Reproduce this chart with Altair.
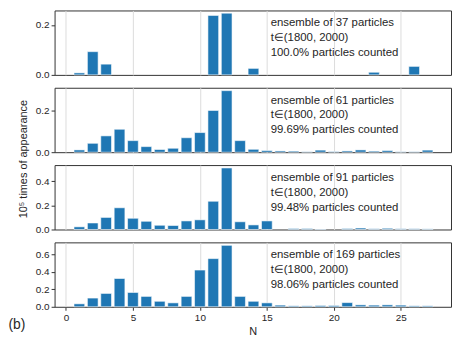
import altair as alt
import pandas as pd

N = list(range(1, 28))

p37 = [0.008, 0.093, 0.043, 0, 0, 0, 0, 0, 0, 0, 0.238, 0.247, 0, 0.026, 0,
       0, 0, 0, 0, 0, 0, 0, 0.0105, 0, 0, 0.034, 0]
p61 = [0.011, 0.043, 0.079, 0.111, 0.056, 0.027, 0.013, 0.019, 0.070, 0.095,
       0.202, 0.298, 0.056, 0.014, 0.008, 0.006, 0.005, 0.002, 0.010, 0.003,
       0.006, 0.011, 0.005, 0.008, 0.002, 0.002, 0.010]
p91 = [0.022, 0.054, 0.100, 0.180, 0.093, 0.068, 0.035, 0.033, 0.071, 0.080,
       0.234, 0.510, 0.064, 0.038, 0.071, 0, 0.008, 0.008, 0.004, 0,
       0.008, 0.012, 0.006, 0.010, 0.006, 0.006, 0.005]
p169 = [0.034, 0.100, 0.153, 0.324, 0.164, 0.119, 0.063, 0.045, 0.119, 0.421,
        0.552, 0.704, 0.119, 0.063, 0.045, 0.019, 0.011, 0.011, 0.015, 0.015,
        0.048, 0.022, 0.019, 0.022, 0.019, 0.011, 0.011]

ensembles = [37, 61, 91, 169]
counted = ["100.0%", "99.69%", "99.48%", "98.06%"]
window = "t\u2208(1800, 2000)"
series = [p37, p61, p91, p169]
ymaxes = [0.258, 0.312, 0.534, 0.738]
yticks = [[0.0, 0.2], [0.0, 0.2], [0.0, 0.2, 0.4], [0.0, 0.2, 0.4, 0.6]]
xticks = [0, 5, 10, 15, 20, 25]
ytitle = "10\u2075 times of appearance"
xtitle = "N"
panel_label = "(b)"

FONT = "Liberation Sans"
TXT = "#262626"
W, H = 400, 65


def panel(i):
    bottom = i == 3
    df = pd.DataFrame({"N": N, "v": series[i]})
    if bottom:
        xaxis = alt.Axis(values=xticks, grid=True, gridColor="#dcdcdc", gridWidth=1,
                         domain=False, ticks=True, tickSize=3.5, tickColor="#333333",
                         labelFontSize=10, labelColor=TXT, labelPadding=2,
                         title=xtitle, titleFontSize=11, titleFontWeight="normal",
                         titleColor=TXT, titlePadding=3)
    else:
        xaxis = alt.Axis(values=xticks, grid=True, gridColor="#dcdcdc", gridWidth=1,
                         domain=False, ticks=False, labels=False, title=None)
    yargs = dict(values=yticks[i], format=".1f", grid=False, domain=False,
                 tickSize=3.5, tickColor="#333333", labelFontSize=10,
                 labelColor=TXT, labelPadding=2)
    if i == 1:
        yargs.update(title=ytitle, titleX=-31, titleY=71.5, titleAngle=270,
                     titleAlign="center", titleBaseline="middle",
                     titleFontSize=11, titleFontWeight="normal", titleColor=TXT)
    else:
        yargs.update(title=None)
    bars = (
        alt.Chart(df)
        .transform_filter("datum.v > 0")
        .transform_calculate(lo="datum.N - 0.4", hi="datum.N + 0.4", base="0")
        .mark_bar(color="#1f77b4", stroke="white", strokeWidth=0.8, strokeOpacity=0.7)
        .encode(
            x=alt.X("lo:Q", scale=alt.Scale(domain=[-0.85, 28.75], nice=False, zero=False),
                    axis=xaxis),
            x2="hi:Q",
            y=alt.Y("v:Q", scale=alt.Scale(domain=[0, ymaxes[i]], nice=False),
                    axis=alt.Axis(**yargs)),
            y2="base:Q",
        )
    )
    label = (f"ensemble of {ensembles[i]} particles\n{window}\n"
             f"{counted[i]} particles counted")
    text = (
        alt.Chart(pd.DataFrame({"t": [label]}))
        .mark_text(align="left", baseline="top", lineBreak="\n", lineHeight=15,
                   fontSize=11.5, font=FONT, color=TXT)
        .encode(text="t:N", x=alt.value(218), y=alt.value(7))
    )
    layers = [bars, text]
    if bottom:
        b = (
            alt.Chart(pd.DataFrame({"t": [panel_label]}))
            .mark_text(align="left", baseline="middle", fontSize=14, font=FONT, color=TXT)
            .encode(text="t:N", x=alt.value(-46.5), y=alt.value(83))
        )
        layers.append(b)
    return alt.layer(*layers).properties(width=W, height=H)


chart = (
    alt.vconcat(*[panel(i) for i in range(4)], spacing=13, bounds="flush")
    .properties(padding=0)
    .configure_view(stroke="#333333", strokeWidth=1)
    .configure_axis(labelFont=FONT, titleFont=FONT)
    .configure_text(font=FONT)
)

chart.save("out.html", embed_options={"renderer": "svg", "actions": False})
